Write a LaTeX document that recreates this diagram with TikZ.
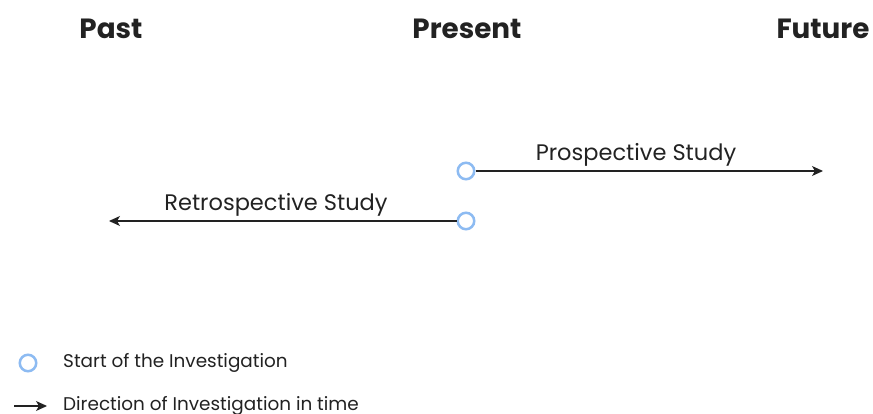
\documentclass[tikz,border=0pt]{standalone}
\usepackage{fontspec}
\setmainfont{Poppins}
\usetikzlibrary{arrows.meta}
\definecolor{ink}{HTML}{222222}
\definecolor{startblue}{HTML}{8DBBF2}
\begin{document}
\begin{tikzpicture}[x=1pt,y=-1pt,
  heading/.style={font=\fontsize{27.8}{32}\selectfont\bfseries, text=ink, inner sep=0pt},
  studylabel/.style={font=\fontsize{22.5}{26}\selectfont, text=ink, inner sep=0pt},
  legendtext/.style={font=\fontsize{18.4}{22}\selectfont, text=ink, inner sep=0pt, anchor=west},
  startpt/.style={circle, draw=startblue, line width=2.5pt, fill=white, minimum size=16.5pt, inner sep=0pt},
  timearrow/.style={draw=ink, line width=1.2pt, -{Stealth[length=11pt,width=10pt,inset=3pt]}}
]
\useasboundingbox (0,0) rectangle (873,414);

% time headings
\node[heading] (past) at (111,29) {Past};
\node[heading] (present) at (467,29) {Present};
\node[heading] (future) at (823,29) {Future};

% starting points of the two studies
\node[startpt] (pstart) at (466,171) {};
\node[startpt] (rstart) at (466,221) {};
\coordinate (pend) at (823,171);
\coordinate (rend) at (109,221);

% studies
\draw[timearrow] (pstart) -- (pend);
\draw[timearrow] (rstart) -- (rend);
\node[studylabel] (plabel) at (636,155) {Prospective Study};
\node[studylabel] (rlabel) at (276,205) {Retrospective Study};

% legend
\node[startpt] (lcirc) at (28,363) {};
\node[legendtext] (ltext1) at (63,363) {Start of the Investigation};
\coordinate (larr1) at (14,406);
\coordinate (larr2) at (47,406);
\draw[timearrow] (larr1) -- (larr2);
\node[legendtext] (ltext2) at (63,406) {Direction of Investigation in time};
\end{tikzpicture}
\end{document}
